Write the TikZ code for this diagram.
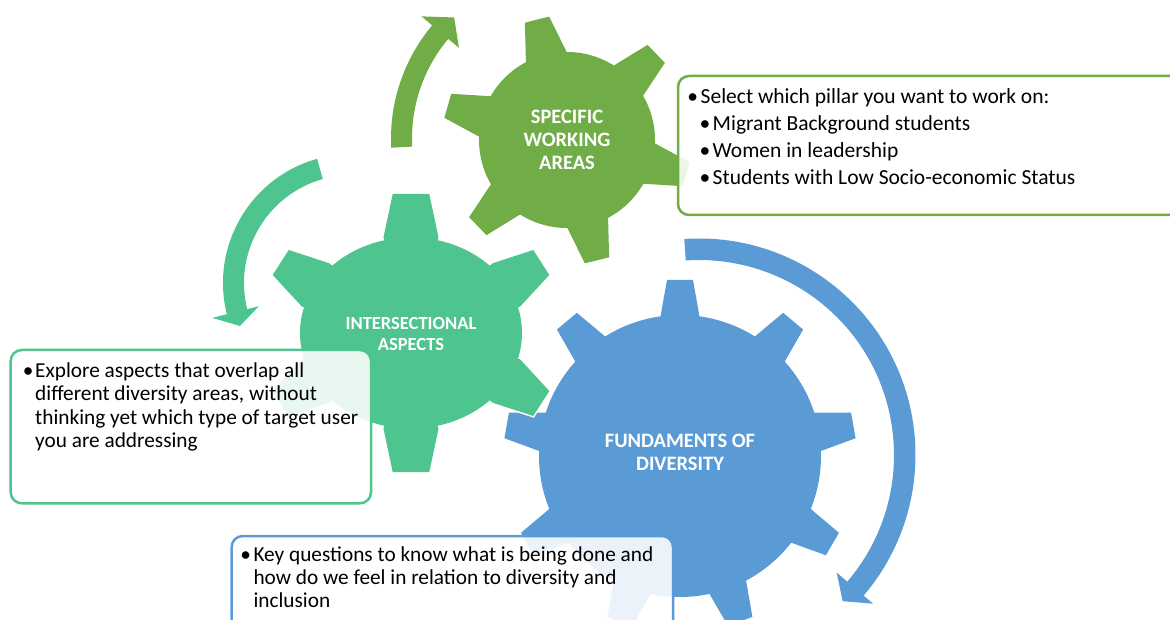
\documentclass[tikz,border=0pt]{standalone}
\usepackage{fontspec}
\setmainfont{Carlito}
\definecolor{cgreen}{HTML}{70AD47}
\definecolor{cteal}{RGB}{78,196,142}
\definecolor{cblue}{HTML}{5B9BD5}
% #1 colour, #2 teeth, #3 first angle, #4 body radius, #5 tip radius, #6 half base width, #7 half tip width
\newcommand\mygear[7]{%
  \pgfmathsetmacro\gxb{10*sqrt((#4/10)*(#4/10)-(#6/10)*(#6/10))}%
  \foreach \k in {1,...,#2}{%
    \pgfmathsetmacro\ga{#3+360/#2*(\k-1)}%
    \filldraw[white, line width=3pt, line join=miter, rotate=\ga] (0,-#6) -- (\gxb,-#6) -- (#5,-#7) -- (#5,#7) -- (\gxb,#6) -- (0,#6) -- cycle;
  }%
  \filldraw[white, line width=3pt] (0,0) circle[radius=#4pt];
  \foreach \k in {1,...,#2}{%
    \pgfmathsetmacro\ga{#3+360/#2*(\k-1)}%
    \fill[#1, rotate=\ga] (0,-#6) -- (\gxb,-#6) -- (#5,-#7) -- (#5,#7) -- (\gxb,#6) -- (0,#6) -- cycle;
  }%
  \fill[#1] (0,0) circle[radius=#4pt];
}
% teal gear drawn piece by piece with the style #1
\newcommand\tealgear[1]{%
  \path[#1] (0,0) -- (-27.5,95.7) -- (-18.3,139) -- (18.3,139) -- (27.5,95.7) -- cycle;
  \path[#1] (0,0) -- (81.7,69.7) -- (122.3,83) -- (138.3,58) -- (109,26.3) -- cycle;
  \path[#1] (0,0) -- (109,-26.3) -- (138.3,-58) -- (122.3,-83) -- (81.7,-69.7) -- cycle;
  \path[#1] (0,0) -- (27.5,-95.7) -- (18.3,-139) -- (-18.3,-139) -- (-27.5,-95.7) -- cycle;
  \path[#1] (0,0) -- (-81.7,-69.7) -- (-122.3,-83) -- (-138.3,-58) -- (-109,-26.3) -- cycle;
  \path[#1] (0,0) -- (-109,26.3) -- (-138.3,58) -- (-122.3,83) -- (-81.7,69.7) -- cycle;
  \path[#1] (0,0) ellipse[x radius=111pt, y radius=95.5pt];
}
\begin{document}
\begin{tikzpicture}[x=1pt,y=1pt,
  glabel/.style={text=white, font=\fontsize{20.5}{23}\selectfont\bfseries, align=center, inner sep=0pt},
  glabelsm/.style={text=white, font=\fontsize{18.5}{20.5}\selectfont\bfseries, align=center, inner sep=0pt},
  boxA/.style={font=\fontsize{21.5}{26}\selectfont, inner sep=0pt, anchor=base west},
  bulA/.style={font=\fontsize{21.5}{26}\selectfont, inner sep=0pt, anchor=base},
  boxB/.style={font=\fontsize{21.3}{23}\selectfont, inner sep=0pt, anchor=base west},
  bulB/.style={font=\fontsize{21.3}{23}\selectfont, inner sep=0pt, anchor=base},
  notebox/.style={line width=2.5pt, fill=white, fill opacity=0.88, rounded corners=11pt}]
\useasboundingbox (0,0) rectangle (1170,619);
\clip (0,0) rectangle (1170,619);

% blue arrow and gear
\fill[cblue, shift={(699,164)}] (93.9:216.5pt) arc[start angle=93.9,end angle=-40.5,radius=216.5pt]
  -- (-40.5:229pt) -- (-45.5:205pt) -- (-40.5:181pt) -- (-40.5:195pt)
  arc[start angle=-40.5,end angle=93.9,radius=195pt] -- cycle;
\begin{scope}[shift={(680,163)}]
  \mygear{cblue}{9}{10}{141}{176}{19.5}{13}
\end{scope}

% teal gear and arrow
\begin{scope}[shift={(411,286)}]
  \tealgear{draw=white, fill=white, line width=3pt, line join=miter}
  \tealgear{fill=cteal}
\end{scope}
\fill[cteal, shift={(352,336)}] (105.7:129pt) arc[start angle=105.7,end angle=194,radius=129pt]
  -- (194:144pt) -- (201:120pt) -- (194:96pt) -- (194:108pt)
  arc[start angle=194,end angle=105.7,radius=108pt] -- cycle;

% green gear and arrow
\begin{scope}[shift={(567,479)}]
  \mygear{cgreen}{6}{44}{88}{124}{21}{12.5}
\end{scope}
\fill[cgreen, shift={(567,480.5)}] (183:176pt) arc[start angle=183,end angle=140,radius=176pt]
  -- (140:190pt) -- (133:165.5pt) -- (140:141pt) -- (140:155pt)
  arc[start angle=140,end angle=183,radius=155pt] -- cycle;

% gear labels
\node[glabel] (lgreen) at (567,479) {SPECIFIC\\WORKING\\AREAS};
\node[glabelsm] (lteal) at (411,285) {INTERSECTIONAL\\ASPECTS};
\node[glabel] (lblue) at (680,167) {FUNDAMENTS OF\\DIVERSITY};

% note boxes
\draw[notebox, draw=cgreen] (678,404) rectangle (1190,543);
\draw[notebox, draw=cteal] (10.7,115.7) rectangle (371,269);
\draw[notebox, draw=cblue] (231.7,-20) rectangle (673,83);

% box 1 text
\node[bulA] (t1b) at (692.7,515) {•};
\node[boxA] (t1) at (700.5,515) {Select which pillar you want to work on:};
\node[bulA] (t2b) at (705,488) {•};
\node[boxA] (t2) at (712.5,488) {Migrant Background students};
\node[bulA] (t3b) at (705,461) {•};
\node[boxA] (t3) at (712.5,461) {Women in leadership};
\node[bulA] (t4b) at (705,434) {•};
\node[boxA] (t4) at (712.5,434) {Students with Low Socio-economic Status};

% box 2 text
\node[bulB] (u1b) at (28.3,241.3) {•};
\node[boxB] (u1) at (35,241.3) {Explore aspects that overlap all};
\node[boxB] (u2) at (35,218) {different diversity areas, without};
\node[boxB] (u3) at (35,194.7) {thinking yet which type of target user};
\node[boxB] (u4) at (35,171.3) {you are addressing};

% box 3 text
\node[bulB] (v1b) at (245.7,58) {•};
\node[boxB] (v1) at (253.3,58) {Key questions to know what is being done and};
\node[boxB] (v2) at (253.3,34.7) {how do we feel in relation to diversity and};
\node[boxB] (v3) at (253.3,11.3) {inclusion};
\end{tikzpicture}
\end{document}
